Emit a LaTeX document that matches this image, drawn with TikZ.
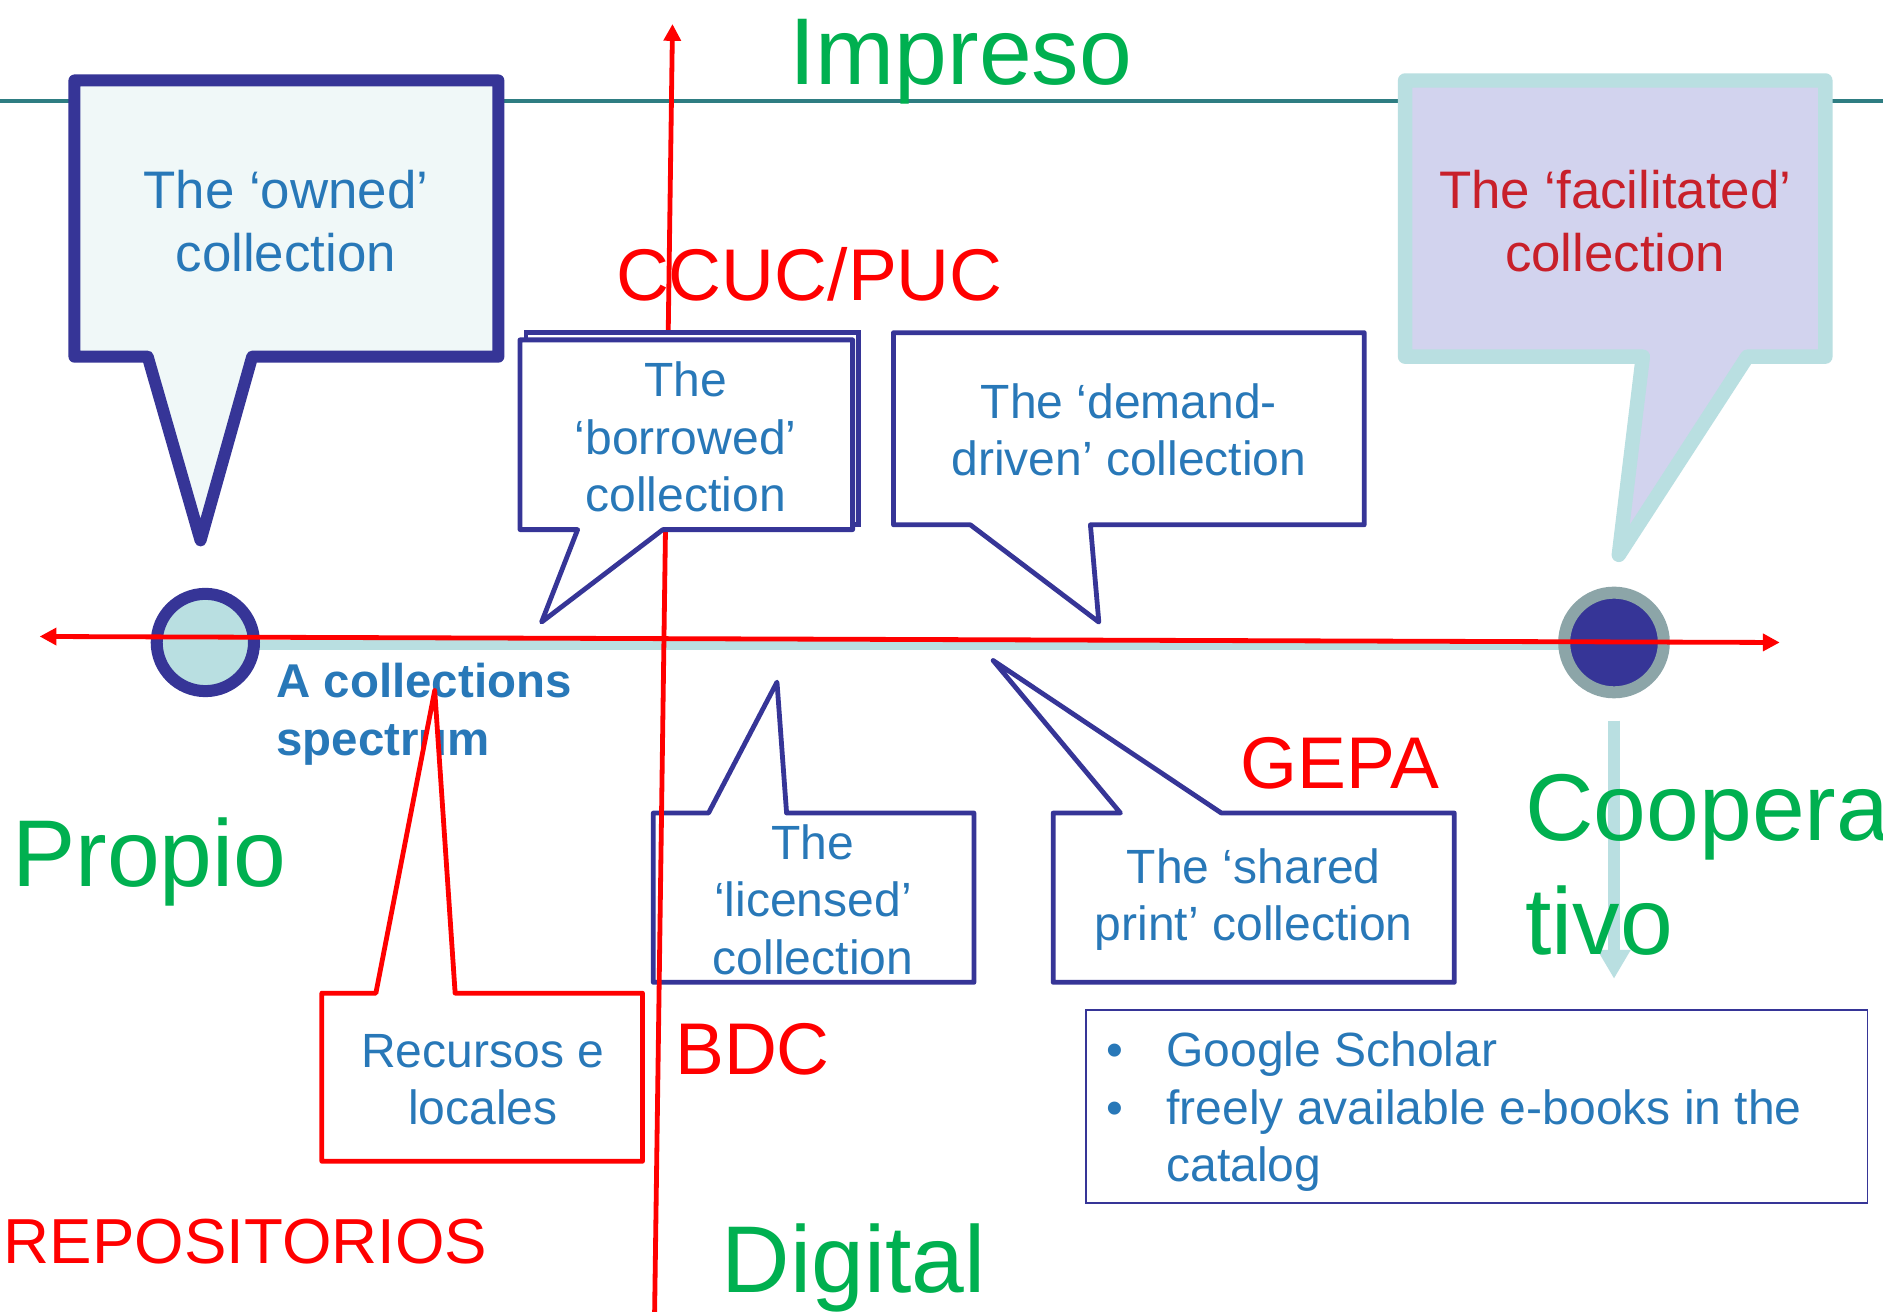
\documentclass[tikz,border=0pt]{standalone}
\usepackage{fontspec}
\setmainfont{Liberation Sans}
\usetikzlibrary{arrows.meta}
\definecolor{cdblue}{RGB}{54,53,151}
\definecolor{cblue}{RGB}{40,120,184}
\definecolor{cgreen}{RGB}{0,176,80}
\definecolor{cred}{RGB}{255,0,0}
\definecolor{cdred}{RGB}{200,32,42}
\definecolor{cteal}{RGB}{46,125,130}
\definecolor{cltteal}{RGB}{185,223,225}
\definecolor{clav}{RGB}{210,211,238}
\definecolor{cpale}{RGB}{240,248,248}
\definecolor{cgray}{RGB}{140,165,168}
\begin{document}
\begin{tikzpicture}[x=1pt,y=-1pt,
  callout/.style={draw=cdblue, line width=4pt, fill=white, line join=round},
  redcallout/.style={draw=cred, line width=4pt, fill=white, line join=round},
  ctext/.style={text=cblue, align=center, inner sep=0pt, font=\fontsize{40}{48}\selectfont},
  bigtext/.style={inner sep=0pt, font=\fontsize{79}{90}\selectfont},
  redtext/.style={inner sep=0pt, text=cred, font=\fontsize{61}{70}\selectfont},
  redarrow/.style={draw=cred, line width=4pt, {Triangle[length=14pt,width=14pt]}-{Triangle[length=14pt,width=14pt]}},
  redup/.style={draw=cred, line width=4pt, -{Triangle[length=14pt,width=14pt]}}
]
\clip (0,0) rectangle (1568,1092);
\fill[white] (0,0) rectangle (1568,1092);

% top teal line
\coordinate (tl) at (0,84);
\coordinate (tr) at (1568,84);
\draw[cteal, line width=3pt] (tl) -- (tr);

% owned callout
\draw[draw=cdblue, fill=cpale, line width=10pt, line join=round]
  (62,67) -- (415,67) -- (415,297) -- (210,297) -- (167,450) -- (123,297) -- (62,297) -- cycle;
% facilitated callout
\draw[draw=cltteal, fill=clav, line width=12pt, line join=round]
  (1170,67) -- (1520,67) -- (1520,297) -- (1455,297) -- (1348,462) -- (1368,297) -- (1170,297) -- cycle;

% spectrum bar
\coordinate (sl) at (171,537);
\coordinate (sr) at (1344,537);
\draw[cltteal, line width=8pt] (sl) -- (sr);

% circles
\node[circle, draw=cdblue, fill=cltteal, line width=10pt, minimum size=81pt, inner sep=0pt] (lc) at (171,535) {};
\node[circle, draw=cgray, fill=cdblue, line width=10pt, minimum size=83pt, inner sep=0pt] (rc) at (1344,535) {};

% licensed, shared, demand callouts
\draw[callout] (544,677) -- (590,677) -- (647,568) -- (655,677) -- (811,677) -- (811,818) -- (544,818) -- cycle;
\draw[callout] (877,677) -- (933,677) -- (827,550) -- (1017,677) -- (1211,677) -- (1211,818) -- (877,818) -- cycle;
\draw[callout] (744,277) -- (1136,277) -- (1136,437) -- (908,437) -- (915,518) -- (808,437) -- (744,437) -- cycle;

% red vertical line
\coordinate (vb) at (545,1100);
\coordinate (vt) at (560,20);
\draw[redup] (vb) -- (vt);

% borrowed callout (with offset outline)
\draw[draw=cdblue, line width=4pt, fill=white] (438,277) rectangle (715,437);
\draw[callout] (433,283) -- (710,283) -- (710,441) -- (552,441) -- (451,518) -- (481,441) -- (433,441) -- cycle;

% red horizontal line
\coordinate (hl) at (33,530);
\coordinate (hr) at (1482,535);
\draw[redarrow] (hl) -- (hr);

% teal down arrow
\coordinate (da) at (1344,600);
\coordinate (db) at (1344,815);
\draw[cltteal, line width=10pt, -{Triangle[length=24pt,width=26pt]}] (da) -- (db);

% callout texts
\node[ctext, font=\fontsize{44}{53}\selectfont] (owned) at (238,184) {The ‘owned’\\collection};
\node[ctext, text=cdred, font=\fontsize{44}{53}\selectfont] (facil) at (1345,184) {The ‘facilitated’\\collection};
\node[ctext] (borrowed) at (571,364) {The\\‘borrowed’\\collection};
\node[ctext] (demand) at (940,358) {The ‘demand-\\driven’ collection};
\node[ctext] (licensed) at (677,749) {The\\‘licensed’\\collection};
\node[ctext] (shared) at (1044,749) {The ‘shared\\print’ collection};

% spectrum label
\node[inner sep=0pt, anchor=west, align=left, text=cblue, font=\bfseries\fontsize{39.5}{48}\selectfont] (spec) at (230,595) {A collections\\spectrum};

% recursos callout
\draw[redcallout] (268,827) -- (313,827) -- (362,575) -- (379,827) -- (535,827) -- (535,967) -- (268,967) -- cycle;
\node[ctext] (recursos) at (402,899) {Recursos e\\locales};

% big labels
\node[bigtext, text=cgreen, anchor=base] (impreso) at (800,70) {Impreso};
\node[redtext, anchor=base] (ccuc) at (674,250) {CCUC/PUC};
\node[bigtext, text=cgreen, anchor=base west] (propio) at (10,738) {Propio};
\node[redtext, anchor=base west] (gepa) at (1033,657) {GEPA};
\node[bigtext, text=cgreen, anchor=base west] (coop) at (1270,700) {Coopera};
\node[bigtext, text=cgreen, anchor=base west] (tivo) at (1270,795) {tivo};
\node[redtext, anchor=base west] (bdc) at (562,895) {BDC};
\node[redtext, anchor=base west, font=\fontsize{53}{60}\selectfont] (repos) at (3,1052) {REPOSITORIOS};
\node[bigtext, text=cgreen, anchor=base west] (digital) at (601,1076) {Digital};

% bullet box
\draw[cdblue, line width=1.5pt] (904,841) rectangle (1555,1002);
\node[inner sep=0pt, text=cblue, font=\fontsize{40}{48}\selectfont, anchor=base] (b1) at (928,888) {•};
\node[inner sep=0pt, text=cblue, font=\fontsize{40}{48}\selectfont, anchor=base] (b2) at (928,936) {•};
\node[inner sep=0pt, text=cblue, font=\fontsize{40}{48}\selectfont, anchor=base west] (g1) at (971,888) {Google Scholar};
\node[inner sep=0pt, text=cblue, font=\fontsize{40}{48}\selectfont, anchor=base west] (g2) at (971,936) {freely available e-books in the};
\node[inner sep=0pt, text=cblue, font=\fontsize{40}{48}\selectfont, anchor=base west] (g3) at (971,984) {catalog};
\end{tikzpicture}
\end{document}
